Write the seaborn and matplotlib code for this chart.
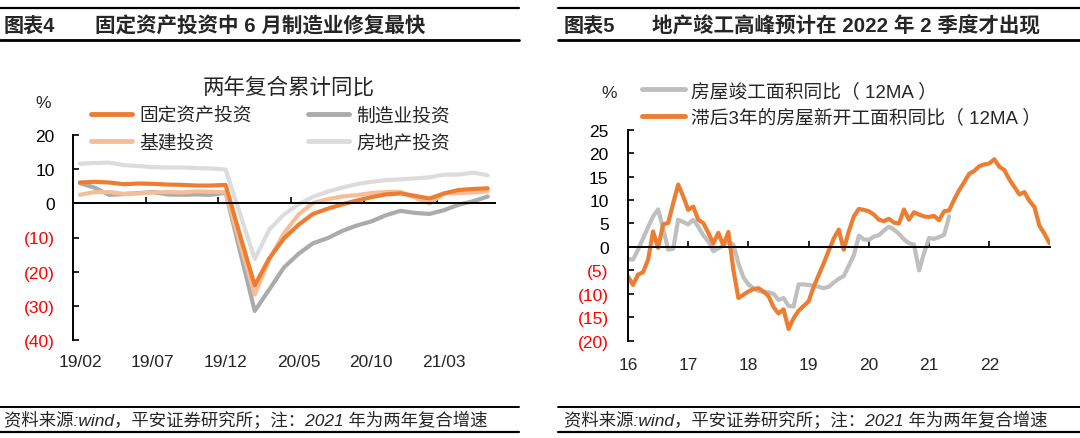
import matplotlib
matplotlib.use("Agg")
import matplotlib.pyplot as plt
from matplotlib.lines import Line2D
import numpy as np
import pandas as pd
import seaborn as sns

# ---------------- left chart: 两年复合累计同比 ----------------
left_months = [
    "19/02", "19/03", "19/04", "19/05", "19/06", "19/07", "19/08", "19/09",
    "19/10", "19/11", "19/12", "20/01", "20/02", "20/03", "20/04", "20/05",
    "20/06", "20/07", "20/08", "20/09", "20/10", "20/11", "20/12", "21/01",
    "21/02", "21/03", "21/04", "21/05", "21/06",
]
fai = [6.1, 6.3, 6.1, 5.6, 5.8, 5.7, 5.5, 5.4, 5.2, 5.2, 5.4, -9.5, -24.0,
       -16.1, -10.3, -6.3, -3.1, -1.6, -0.3, 0.8, 1.8, 2.6, 2.9, 2.2, 1.4,
       2.9, 3.9, 4.2, 4.4]
manu = [5.9, 4.6, 2.5, 2.7, 3.0, 3.3, 2.6, 2.5, 2.6, 2.5, 3.1, -14.2, -31.5,
        -25.2, -18.8, -14.8, -11.7, -10.2, -8.1, -6.5, -5.3, -3.5, -2.2, -2.8,
        -3.1, -2.0, -0.4, 0.6, 2.0]
infra = [2.5, 3.3, 3.3, 2.8, 2.9, 3.2, 3.3, 3.2, 3.5, 3.4, 3.3, -11.8, -26.7,
         -16.4, -8.8, -3.3, 0.1, 1.2, 2.0, 2.4, 3.0, 3.3, 3.4, 1.7, 0.0,
         2.9, 3.0, 3.2, 3.5]
estate = [11.6, 11.8, 11.9, 11.2, 10.9, 10.6, 10.5, 10.5, 10.3, 10.2, 9.9,
          -3.2, -16.3, -7.7, -3.3, -0.3, 1.9, 3.4, 4.6, 5.6, 6.3, 6.8, 7.0,
          7.3, 7.6, 8.4, 8.4, 9.0, 8.2]
left_names = ["固定资产投资", "制造业投资", "基建投资", "房地产投资"]
left_colors = ["#ED7D31", "#ABABAB", "#F6BE98", "#DCDCDC"]
left_yticks = [20, 10, 0, -10, -20, -30, -40]

# ---------------- right chart: 竣工 vs 滞后新开工 ----------------
right_years = ["16", "17", "18", "19", "20", "21", "22"]
completed = [
    -2.6, -2.7, -0.6, 1.8, 4.2, 6.5, 8.0, 4.0, -0.6, -0.4, 5.8, 5.3,
    4.8, 5.8, 4.3, 2.5, 1.2, -0.9, -0.3, 0.3, 1.2, 0.5, -3.5, -6.5,
    -8.0, -8.8, -9.4, -9.6, -9.7, -10.0, -11.3, -10.9, -12.6, -12.7, -8.0, -8.0,
    -8.1, -8.3, -8.5, -8.8, -8.5, -7.6, -6.8, -6.2, -4.0, -1.8, 2.4, 1.6,
    1.5, 2.2, 2.5, 3.5, 4.3, 3.7, 2.8, 1.6, 0.8, 0.5, -5.0, -1.3,
    1.9, 1.7, 2.1, 2.6, 6.5,
]
lagged_starts = [
    -6.3, -8.1, -5.9, -5.4, -2.7, 3.3, -0.2, 4.8, 5.1, 9.3, 13.3, 10.8,
    7.9, 8.6, 5.8, 5.1, 3.0, 0.7, 3.0, 0.3, 3.2, -4.9, -10.9, -10.2,
    -9.5, -9.0, -8.8, -9.5, -10.5, -12.8, -14.2, -13.3, -17.5, -15.2, -13.6, -12.6,
    -11.6, -8.5, -6.0, -3.5, -0.8, 1.8, 3.7, -0.6, 3.3, 6.5, 8.1, 7.9,
    7.6, 6.9, 5.8, 5.5, 6.0, 5.2, 5.0, 8.0, 5.8, 7.4, 6.9, 6.5,
    6.4, 6.6, 5.7, 7.6, 7.8, 10.1, 12.1, 13.8, 15.6, 16.2, 17.2, 17.6,
    17.8, 18.7, 17.1, 16.4, 14.4, 12.8, 11.2, 11.7, 9.8, 8.5, 4.5, 2.8,
    0.8,
]
right_names = ["房屋竣工面积同比（ 12MA ）", "滞后3年的房屋新开工面积同比（ 12MA ）"]
right_colors = ["#BFBFBF", "#ED7D31"]
right_yticks = [25, 20, 15, 10, 5, 0, -5, -10, -15, -20]

W, H = 1080, 439


def fx(px):
    return px / W


def fy(py):
    return 1 - py / H


def paren(v):
    return f"({abs(v)})" if v < 0 else f"{v}"


def style_axis(ax, yticks, ylabel_pad, xpad, xtick_pos, xlab_pos, xlabels):
    for s in ["top", "right"]:
        ax.spines[s].set_visible(False)
    ax.spines["bottom"].set_position(("data", 0))
    for s in ["left", "bottom"]:
        ax.spines[s].set_color("black")
        ax.spines[s].set_linewidth(1.4)
    ax.set_facecolor("none")
    ax.grid(False)
    ax.set_xlabel("")
    ax.set_ylabel("")

    ax.set_yticks(yticks)
    ax.set_yticklabels([paren(v) for v in yticks])
    for lab, v in zip(ax.get_yticklabels(), yticks):
        lab.set_color("#FF0000" if v < 0 else "black")
    ax.tick_params(axis="y", direction="in", length=4.5, width=1.4,
                   pad=ylabel_pad, labelsize=12.5)

    ax.set_xticks(xtick_pos)
    ax.tick_params(axis="x", direction="in", length=4.5, width=1.4,
                   labelbottom=False)

    # category labels sit under the plot, not on the zero line
    sec = ax.secondary_xaxis("bottom")
    sec.set_xticks(xlab_pos, labels=xlabels)
    sec.spines["bottom"].set_visible(False)
    sec.tick_params(axis="x", length=0, pad=xpad, labelsize=12.5)


def main():
    sns.set_style("ticks")
    plt.rcParams["font.family"] = ["Liberation Sans", "Noto Sans CJK SC"]
    plt.rcParams["axes.unicode_minus"] = False

    fig = plt.figure(figsize=(W / 100, H / 100), dpi=100)

    # ---------- left ----------
    ax1 = fig.add_axes([fx(72.7), fy(341), (495 - 72.7) / W, (341 - 136) / H])
    idx = np.arange(len(left_months))
    df1 = pd.concat([
        pd.DataFrame({"idx": idx, "value": vals, "series": name})
        for name, vals in zip(left_names, [fai, manu, infra, estate])
    ])
    order = ["房地产投资", "制造业投资", "基建投资", "固定资产投资"]
    pal = dict(zip(left_names, left_colors))
    sns.lineplot(data=df1, x="idx", y="value", hue="series", hue_order=order,
                 palette=pal, linewidth=3, legend=False, ax=ax1)
    ax1.set_xlim(-0.5, len(left_months) - 0.5)
    ax1.set_ylim(-40, 20)
    style_axis(ax1, left_yticks, 13, 10,
               xtick_pos=[4.5, 9.5, 14.5, 19.5, 24.5],
               xlab_pos=idx[::5], xlabels=left_months[::5])

    handles = [Line2D([], [], color=pal[n], lw=3.5) for n in
               ["固定资产投资", "基建投资", "制造业投资", "房地产投资"]]
    ax1.legend(handles, ["固定资产投资", "基建投资", "制造业投资", "房地产投资"],
               ncol=2, loc="upper left", bbox_to_anchor=(fx(91), fy(108)),
               bbox_transform=fig.transFigure, frameon=False, fontsize=13.5,
               handlelength=2.2, handletextpad=0.38, columnspacing=3.0,
               labelspacing=0.5, borderpad=0, borderaxespad=0)
    fig.text(fx(289), fy(88), "两年复合累计同比", ha="center", va="center",
             fontsize=15.5)
    fig.text(fx(43), fy(103), "%", ha="center", va="center", fontsize=12.5)

    # ---------- right ----------
    ax2 = fig.add_axes([fx(628), fy(341.7), (1049.5 - 628) / W,
                        (341.7 - 130.7) / H])
    df2 = pd.concat([
        pd.DataFrame({"month": np.arange(len(vals)), "value": vals,
                      "series": name})
        for name, vals in zip(right_names, [completed, lagged_starts])
    ])
    pal2 = dict(zip(right_names, right_colors))
    sns.lineplot(data=df2, x="month", y="value", hue="series",
                 hue_order=right_names, palette=pal2, linewidth=3,
                 legend=False, ax=ax2)
    ax2.set_xlim(0, len(lagged_starts) - 1)
    ax2.set_ylim(-20, 25)
    year_pos = [12 * k for k in range(len(right_years))]
    style_axis(ax2, right_yticks, 14, 12,
               xtick_pos=year_pos[1:], xlab_pos=year_pos, xlabels=right_years)

    handles2 = [Line2D([], [], color=pal2[n], lw=3.5) for n in right_names]
    ax2.legend(handles2, right_names, loc="upper left",
               bbox_to_anchor=(fx(642), fy(83)),
               bbox_transform=fig.transFigure, frameon=False, fontsize=13.5,
               handlelength=2.3, handletextpad=0.3, labelspacing=0.45,
               borderpad=0, borderaxespad=0)
    fig.text(fx(609), fy(93), "%", ha="center", va="center", fontsize=12.5)

    # ---------- headers and footers ----------
    panels = [(0, 519, 4, 95, "图表4", "固定资产投资中 6 月制造业修复最快"),
              (558, 1080, 563.5, 652.5, "图表5", "地产竣工高峰预计在 2022 年 2 季度才出现")]
    note = "资料来源:wind，平安证券研究所；注：2021 年为两年复合增速"
    for x0, x1, tx, sx, tag, sub in panels:
        for yy, lw in [(8.5, 1.6), (40.7, 2.0), (407.5, 1.4), (432.5, 1.6)]:
            fig.add_artist(Line2D([fx(x0), fx(x1)], [fy(yy), fy(yy)],
                                  color="black", lw=lw,
                                  transform=fig.transFigure))
        fig.text(fx(tx), fy(26.5), tag, ha="left", va="center", fontsize=14.5,
                 fontweight="bold")
        fig.text(fx(sx), fy(26.5), sub, ha="left", va="center", fontsize=14.8,
                 fontweight="bold")
        fig.text(fx(tx), fy(420.5), note, ha="left", va="center", fontsize=12.5,
                 style="italic")

    fig.savefig("out.png", dpi=100, facecolor="white")


if __name__ == "__main__":
    main()
